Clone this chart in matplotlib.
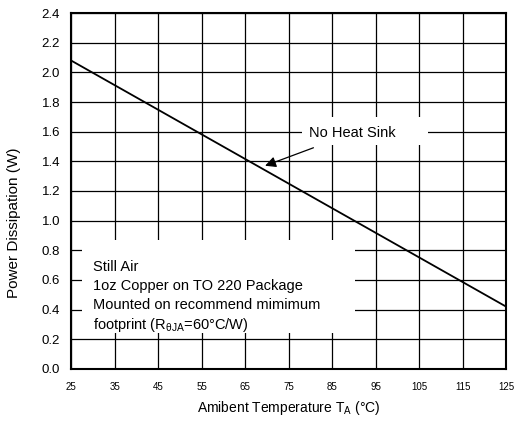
import numpy as np
import matplotlib.pyplot as plt
from matplotlib.patches import Rectangle

plt.rcParams['font.family'] = ['Liberation Sans', 'DejaVu Sans']

temp = [25, 125]
power = [2.08, 0.42]
xticks = [25, 35, 45, 55, 65, 75, 85, 95, 105, 115, 125]
yticks = [0.0, 0.2, 0.4, 0.6, 0.8, 1.0, 1.2, 1.4, 1.6, 1.8, 2.0, 2.2, 2.4]

fig = plt.figure(figsize=(5.19, 4.22), dpi=100)
ax = fig.add_axes([0.137, 0.126, 0.838, 0.843])

ax.plot(temp, power, color='black', lw=1.3, zorder=3)
ax.set_xlim(25, 125)
ax.set_ylim(0, 2.4)
ax.set_xticks(xticks)
ax.set_yticks(yticks)
ax.set_yticklabels(['%.1f' % v for v in yticks], fontsize=9.5)
ax.set_xticklabels([str(v) for v in xticks], fontsize=7)
ax.tick_params(axis='y', length=0, pad=8)
ax.tick_params(axis='x', length=0, pad=9.5)
ax.grid(True, color='black', lw=0.9)
for s in ax.spines.values():
    s.set_linewidth(1.5)

ax.set_xlabel('Amibent Temperature T$_\\mathregular{A}$ (°C)', fontsize=10, labelpad=5)
ax.set_ylabel('Power Dissipation (W)', fontsize=11, labelpad=6)
ax.yaxis.set_label_coords(-0.116, 0.41)

# white boxes over grid
ax.add_patch(Rectangle((27.5, 0.243), 62.8, 0.627, facecolor='white',
                       edgecolor='none', zorder=2.5))
ax.add_patch(Rectangle((78.1, 1.51), 29.0, 0.19, facecolor='white',
                       edgecolor='none', zorder=2.5))

txt = ['Still Air', '1oz Copper on TO 220 Package',
       'Mounted on recommend mimimum',
       'footprint (R$_{\\mathregular{\\theta JA}}$=60°C/W)']
for i, t in enumerate(txt):
    ax.text(30.0, 0.69 - i * 0.131, t, fontsize=10.5, va='center', ha='left', zorder=4)

ax.annotate('No Heat Sink', xy=(69.6, 1.37), xytext=(79.8, 1.59),
            fontsize=10.5, va='center', ha='left', zorder=4,
            arrowprops=dict(arrowstyle='-|>', color='black', lw=0.9,
                            mutation_scale=16, shrinkA=10, shrinkB=0))

fig.savefig('out.png', dpi=100)
